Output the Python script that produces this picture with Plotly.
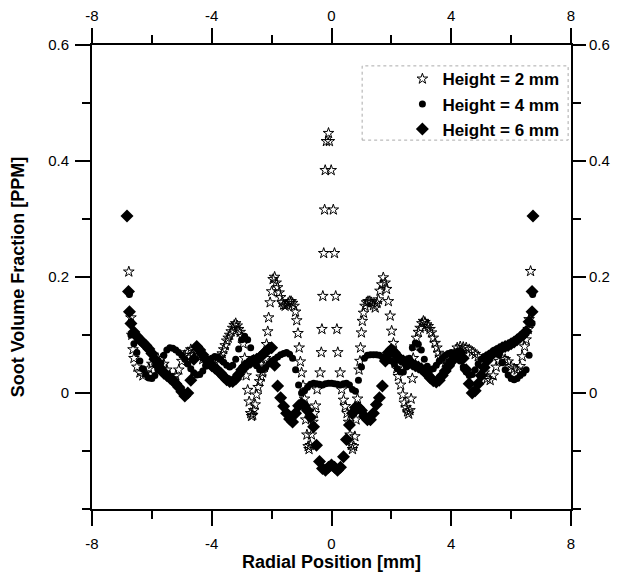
import numpy as np
import plotly.graph_objects as go

# ---------------- data ----------------
# common radial grid (mm) for the 4 mm and 6 mm profiles
r_grid = np.round(np.arange(-6.7, 6.71, 0.1), 2)

h4_vals = [
    0.100, 0.085, 0.070, 0.055, 0.042, 0.032, 0.026, 0.025, 0.030, 0.040,
    0.052, 0.065, 0.074, 0.078, 0.077, 0.074, 0.070, 0.065, 0.058, 0.050,
    0.042, 0.035, 0.031, 0.032, 0.038, 0.046, 0.054, 0.060, 0.063, 0.062,
    0.058, 0.053, 0.048, 0.045, 0.048, 0.058, 0.076, 0.092, 0.098, 0.092,
    0.078, 0.060, 0.047, 0.040, 0.040, 0.044, 0.050, 0.055, 0.058, 0.062,
    0.066, 0.068, 0.070, 0.067, 0.060, 0.040, 0.014, 0.000, 0.004, 0.010,
    0.015, 0.017, 0.016, 0.015, 0.014, 0.016, 0.017, 0.017,
    0.016, 0.015, 0.014, 0.016, 0.017, 0.014, 0.006, 0.003, 0.022, 0.045,
    0.060, 0.065, 0.066, 0.066, 0.066, 0.065, 0.062, 0.060, 0.058, 0.055,
    0.050, 0.042, 0.036, 0.036, 0.045, 0.060, 0.078, 0.086, 0.084, 0.074,
    0.058, 0.046, 0.040, 0.042, 0.048, 0.055, 0.060, 0.065, 0.068, 0.070,
    0.068, 0.062, 0.055, 0.045, 0.036, 0.030, 0.032, 0.040, 0.050, 0.058,
    0.063, 0.066, 0.069, 0.073, 0.075, 0.066, 0.052, 0.040, 0.031, 0.025,
    0.023, 0.025, 0.030, 0.034, 0.040, 0.065, 0.120,
]
h4_edge_r = [-6.75, 6.72]
h4_edge_v = [0.170, 0.170]

h6_vals = [
    0.120, 0.105, 0.098, 0.092, 0.087, 0.082, 0.076, 0.068, 0.058, 0.048,
    0.040, 0.034, 0.030, 0.026, 0.022, 0.016, 0.010, 0.002, -0.005, 0.000,
    0.022, 0.058, 0.080, 0.074, 0.066, 0.058, 0.052, 0.047, 0.043, 0.039,
    0.034, 0.028, 0.023, 0.020, 0.020, 0.024, 0.032, 0.040, 0.046, 0.050,
    0.053, 0.056, 0.058, 0.061, 0.066, 0.071, 0.076, 0.078, 0.048, 0.012,
    -0.008, -0.023, -0.035, -0.045, -0.050, -0.035, -0.022, -0.018, -0.022, -0.030,
    -0.042, -0.058, -0.090, -0.118, -0.130, -0.133, -0.128, -0.124,
    -0.128, -0.133, -0.128, -0.110, -0.080, -0.055, -0.035, -0.025, -0.025, -0.030,
    -0.040, -0.046, -0.046, -0.035, -0.020, -0.008, 0.012, 0.055, 0.070, 0.075,
    0.070, 0.063, 0.058, 0.055, 0.054, 0.052, 0.050, 0.047, 0.045, 0.042,
    0.038, 0.032, 0.026, 0.021, 0.019, 0.022, 0.030, 0.038, 0.046, 0.054,
    0.062, 0.068, 0.070, 0.060, 0.040, 0.016, 0.000, 0.004, 0.016, 0.030,
    0.044, 0.056, 0.064, 0.069, 0.072, 0.075, 0.078, 0.080, 0.082, 0.085,
    0.088, 0.092, 0.096, 0.100, 0.106, 0.123, 0.140,
]
h6_edge_r = [-6.75, -6.78, -6.83, 6.70, 6.73]
h6_edge_v = [0.140, 0.175, 0.305, 0.175, 0.305]

h2_r = [
    -6.77, -6.70, -6.67, -6.63, -6.60, -6.50, -6.40, -6.30, -6.20, -6.10,
    -6.00, -5.90, -5.80, -5.70, -5.60, -5.50, -5.40, -5.30, -5.20, -5.10,
    -5.00, -4.90, -4.80, -4.70, -4.60, -4.50, -4.40, -4.30, -4.20, -4.10,
    -4.00, -3.90, -3.80, -3.70, -3.65, -3.60, -3.55, -3.50, -3.45, -3.40,
    -3.35, -3.30, -3.25, -3.20, -3.15, -3.10, -3.05, -3.00, -2.95, -2.90,
    -2.85, -2.80, -2.75, -2.70, -2.67, -2.63, -2.60, -2.55, -2.50, -2.45,
    -2.40, -2.35, -2.30, -2.25, -2.20, -2.17, -2.13, -2.10, -2.05, -2.00,
    -1.95, -1.90, -1.85, -1.80, -1.75, -1.70, -1.65, -1.60, -1.55, -1.50,
    -1.45, -1.40, -1.35, -1.30, -1.25, -1.20, -1.16, -1.12, -1.08, -1.04,
    -1.00, -0.95, -0.90, -0.86, -0.82, -0.78, -0.75, -0.71, -0.67, -0.62,
    -0.57, -0.53, -0.48, -0.38, -0.34, -0.32, -0.29, -0.26, -0.23, -0.21,
    -0.17, -0.10, -0.07, -0.01, 0.06, 0.10, 0.14, 0.18, 0.21, 0.29,
    0.34, 0.40, 0.46, 0.52, 0.57, 0.62, 0.66, 0.70, 0.74, 0.78,
    0.82, 0.87, 0.92, 0.95, 0.97, 1.00, 1.03, 1.07, 1.12, 1.17,
    1.22, 1.28, 1.34, 1.40, 1.46, 1.52, 1.57, 1.62, 1.68, 1.73,
    1.79, 1.84, 1.90, 1.96, 2.01, 2.07, 2.12, 2.18, 2.23, 2.31,
    2.38, 2.43, 2.49, 2.54, 2.58, 2.62, 2.66, 2.70, 2.73, 2.78,
    2.84, 2.90, 2.96, 3.02, 3.07, 3.12, 3.18, 3.23, 3.29, 3.34,
    3.40, 3.46, 3.52, 3.57, 3.63, 3.70, 3.80, 3.90, 4.00, 4.10,
    4.20, 4.30, 4.40, 4.50, 4.60, 4.70, 4.80, 4.90, 5.00, 5.10,
    5.20, 5.30, 5.40, 5.50, 5.60, 5.70, 5.80, 5.90, 6.00, 6.10,
    6.20, 6.30, 6.37, 6.45, 6.50, 6.57, 6.60, 6.65,
]
h2_vals = [
    0.209, 0.130, 0.100, 0.075, 0.060, 0.045, 0.035, 0.030, 0.035, 0.042,
    0.050, 0.057, 0.060, 0.058, 0.050, 0.040, 0.030, 0.025, 0.030, 0.040,
    0.055, 0.065, 0.070, 0.075, 0.075, 0.072, 0.065, 0.058, 0.055, 0.054,
    0.054, 0.055, 0.058, 0.062, 0.068, 0.075, 0.082, 0.090, 0.095, 0.100,
    0.106, 0.112, 0.117, 0.120, 0.116, 0.110, 0.105, 0.098, 0.085, 0.060,
    0.030, 0.005, -0.015, -0.035, -0.040, -0.038, -0.030, -0.020, -0.003, 0.010,
    0.020, 0.028, 0.035, 0.045, 0.060, 0.084, 0.106, 0.130, 0.156, 0.175,
    0.196, 0.200, 0.190, 0.182, 0.173, 0.165, 0.156, 0.152, 0.150, 0.152,
    0.155, 0.158, 0.158, 0.155, 0.150, 0.140, 0.125, 0.103, 0.078, 0.054,
    0.035, 0.013, -0.010, -0.046, -0.072, -0.092, -0.097, -0.090, -0.072, -0.050,
    -0.035, -0.022, 0.006, 0.035, 0.070, 0.110, 0.167, 0.241, 0.316, 0.384,
    0.434, 0.448, 0.434, 0.384, 0.316, 0.241, 0.167, 0.110, 0.070, 0.035,
    0.006, -0.012, -0.023, -0.035, -0.050, -0.072, -0.090, -0.097, -0.092, -0.075,
    -0.046, -0.010, 0.040, 0.055, 0.078, 0.104, 0.124, 0.138, 0.150, 0.156,
    0.158, 0.158, 0.156, 0.151, 0.147, 0.155, 0.161, 0.176, 0.187, 0.199,
    0.190, 0.179, 0.158, 0.133, 0.107, 0.086, 0.060, 0.042, 0.029, 0.014,
    -0.003, -0.017, -0.025, -0.032, -0.036, -0.030, -0.010, 0.025, 0.060, 0.080,
    0.095, 0.105, 0.112, 0.120, 0.124, 0.122, 0.118, 0.115, 0.110, 0.104,
    0.095, 0.086, 0.078, 0.069, 0.062, 0.056, 0.052, 0.050, 0.055, 0.068,
    0.078, 0.080, 0.079, 0.078, 0.075, 0.071, 0.067, 0.063, 0.052, 0.035,
    0.025, 0.022, 0.030, 0.045, 0.055, 0.060, 0.058, 0.054, 0.046, 0.042,
    0.040, 0.046, 0.063, 0.080, 0.092, 0.110, 0.127, 0.210,
]

series_names = ["Height = 2 mm", "Height = 4 mm", "Height = 6 mm"]
x_ticks = [-8, -4, 0, 4, 8]
x_tick_text = ["-8", "-4", "0", "4", "8"]
y_ticks = [0, 0.2, 0.4, 0.6]
y_tick_text = ["0", "0.2", "0.4", "0.6"]
x_range = [-8, 8]
y_range = [-0.2, 0.6]

# ---------------- figure ----------------
FONT = "Liberation Sans, Arial, sans-serif"
fig = go.Figure()

fig.add_trace(go.Scatter(
    x=h2_r, y=h2_vals, mode="markers", name=series_names[0],
    marker=dict(symbol="star-open", size=8, color="black",
                line=dict(width=1, color="black")),
))
fig.add_trace(go.Scatter(
    x=list(r_grid) + h4_edge_r, y=h4_vals + h4_edge_v, mode="markers",
    name=series_names[1],
    marker=dict(symbol="circle", size=7, color="black"),
))
fig.add_trace(go.Scatter(
    x=list(r_grid) + h6_edge_r, y=h6_vals + h6_edge_v, mode="markers",
    name=series_names[2],
    marker=dict(symbol="diamond", size=10, color="black"),
))
# invisible trace to activate the mirrored (top / right) axes
fig.add_trace(go.Scatter(x=[None], y=[None], xaxis="x2", yaxis="y2",
                         showlegend=False, hoverinfo="skip"))

axis_common = dict(
    showline=True, linecolor="black", linewidth=2,
    ticks="outside", tickwidth=2, tickcolor="black",
    showgrid=False, zeroline=False, automargin=False,
    tickfont=dict(family=FONT, size=15, color="black"),
)
x_minor = dict(dtick=2, tick0=0, ticks="outside", ticklen=8,
               tickwidth=2, tickcolor="black")
y_minor = dict(dtick=0.1, tick0=0, ticks="outside", ticklen=8,
               tickwidth=2, tickcolor="black")

fig.update_layout(
    width=603, height=567,
    margin=dict(l=84, r=40, t=37, b=66),
    paper_bgcolor="white", plot_bgcolor="white",
    font=dict(family=FONT, color="black"),
    xaxis=dict(range=x_range, tickmode="array", tickvals=x_ticks,
               ticktext=x_tick_text, minor=x_minor, ticklen=15,
               ticklabelstandoff=5,
               title=dict(text="<b>Radial Position [mm]</b>",
                          font=dict(family=FONT, size=18), standoff=0),
               **axis_common),
    xaxis2=dict(range=x_range, overlaying="x", side="top", anchor="y",
                tickmode="array", tickvals=x_ticks, ticktext=x_tick_text,
                minor=x_minor, ticklen=15, ticklabelstandoff=1,
                **axis_common),
    yaxis=dict(range=y_range, tickmode="array", tickvals=y_ticks,
               ticktext=y_tick_text, minor=y_minor, ticklen=15,
               ticklabelstandoff=3,
               title=dict(text="<b>Soot Volume Fraction [PPM]</b>",
                          font=dict(family=FONT, size=18), standoff=22),
               **axis_common),
    yaxis2=dict(range=y_range, overlaying="y", side="right", anchor="x",
                tickmode="array", tickvals=y_ticks, ticktext=y_tick_text,
                minor=y_minor, ticklen=13, ticklabelstandoff=0,
                **axis_common),
    legend=dict(x=0.648, y=0.965, xanchor="left", yanchor="top",
                bgcolor="rgba(0,0,0,0)", borderwidth=0,
                font=dict(family=FONT, size=17, color="black"),
                tracegroupgap=0, itemwidth=30),
    showlegend=True,
)

# faint dotted frame around the legend
fig.add_shape(type="rect", xref="paper", yref="paper",
              x0=0.564, x1=0.994, y0=0.795, y1=0.955,
              line=dict(color="#aaaaaa", width=1, dash="dot"))

# bold legend labels
for tr in fig.data[:3]:
    tr.name = "<b>" + tr.name + "</b>"

fig.write_html("out.html")
